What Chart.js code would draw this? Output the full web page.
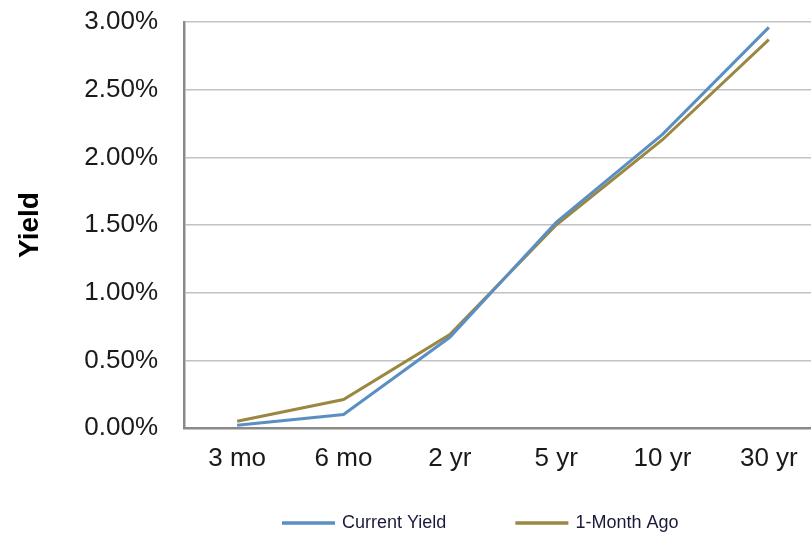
<!DOCTYPE html>
<html>
<head>
<meta charset="utf-8">
<script src="https://cdn.jsdelivr.net/npm/chart.js@4/dist/chart.umd.min.js"></script>
<style>
  html, body { margin: 0; padding: 0; background: #fff; overflow: hidden; }
  #wrap { position: relative; width: 822px; height: 537px; }
</style>
</head>
<body>
<div id="wrap"><canvas id="c"></canvas></div>
<script>
// Treasury yield curve: current vs. one month earlier (percent)
const maturities = ['3 mo', '6 mo', '2 yr', '5 yr', '10 yr', '30 yr'];
const currentYield = [0.02, 0.10, 0.67, 1.52, 2.17, 2.96];
const monthAgoYield = [0.05, 0.21, 0.69, 1.50, 2.13, 2.87];
const seriesNames = ['Current Yield', '1-Month Ago'];
const yTicks = [0, 0.5, 1.0, 1.5, 2.0, 2.5, 3.0];

const BLUE = '#5b8fc4';
const GOLD = '#9a8842';
const FONT = "'Liberation Sans', Arial, sans-serif";

// Legend drawn as line samples under the axis labels
const bottomLegend = {
  id: 'bottomLegend',
  afterDraw(chart) {
    const ctx = chart.ctx;
    ctx.save();
    ctx.font = '18px ' + FONT;
    ctx.textBaseline = 'middle';
    ctx.textAlign = 'left';
    let x = 282;
    const y = 523;
    chart.data.datasets.forEach(ds => {
      ctx.strokeStyle = ds.borderColor;
      ctx.lineWidth = 3.5;
      ctx.beginPath();
      ctx.moveTo(x, y);
      ctx.lineTo(x + 53, y);
      ctx.stroke();
      ctx.fillStyle = '#1a1a3a';
      ctx.fillText(ds.label, x + 60, y);
      x += 60 + ctx.measureText(ds.label).width + 69;
    });
    ctx.restore();
  }
};

new Chart(document.getElementById('c'), {
  type: 'line',
  data: {
    labels: maturities,
    datasets: [
      { label: seriesNames[0], data: currentYield, borderColor: BLUE, backgroundColor: BLUE,
        borderWidth: 3, pointRadius: 0, tension: 0 },
      { label: seriesNames[1], data: monthAgoYield, borderColor: GOLD, backgroundColor: GOLD,
        borderWidth: 3, pointRadius: 0, tension: 0 }
    ]
  },
  options: {
    responsive: true,
    maintainAspectRatio: false,
    animation: false,
    devicePixelRatio: 1,
    layout: { padding: { top: 22, left: 0, right: 0, bottom: 0 } },
    plugins: { legend: { display: false }, tooltip: { enabled: false } },
    scales: {
      x: {
        offset: true,
        grid: { display: false, drawTicks: false },
        border: { display: true, color: '#8a8a8a', width: 2.5 },
        ticks: { color: '#1a1a1a', font: { family: FONT, size: 26 }, padding: 15, maxRotation: 0 },
        afterFit(scale) {
          scale.height = 109;
          scale.paddingLeft = 0;
          scale.paddingRight = 0;
        }
      },
      y: {
        min: 0,
        max: 3,
        afterBuildTicks(scale) { scale.ticks = yTicks.map(v => ({ value: v })); },
        grid: { color: '#c2c2c2', lineWidth: 1.5, drawTicks: false },
        border: { display: true, color: '#8a8a8a', width: 2.5 },
        ticks: {
          color: '#1a1a1a',
          font: { family: FONT, size: 26 },
          padding: 26,
          callback: v => v.toFixed(2) + '%'
        },
        title: {
          display: true,
          text: 'Yield',
          color: '#000',
          font: { family: FONT, size: 28, weight: 'bold' },
          padding: { top: 13, bottom: 0 }
        },
        afterFit(scale) {
          scale.width = 184;
          scale.paddingTop = 0;
          scale.paddingBottom = 0;
        }
      }
    }
  },
  plugins: [bottomLegend]
});
</script>
</body>
</html>
